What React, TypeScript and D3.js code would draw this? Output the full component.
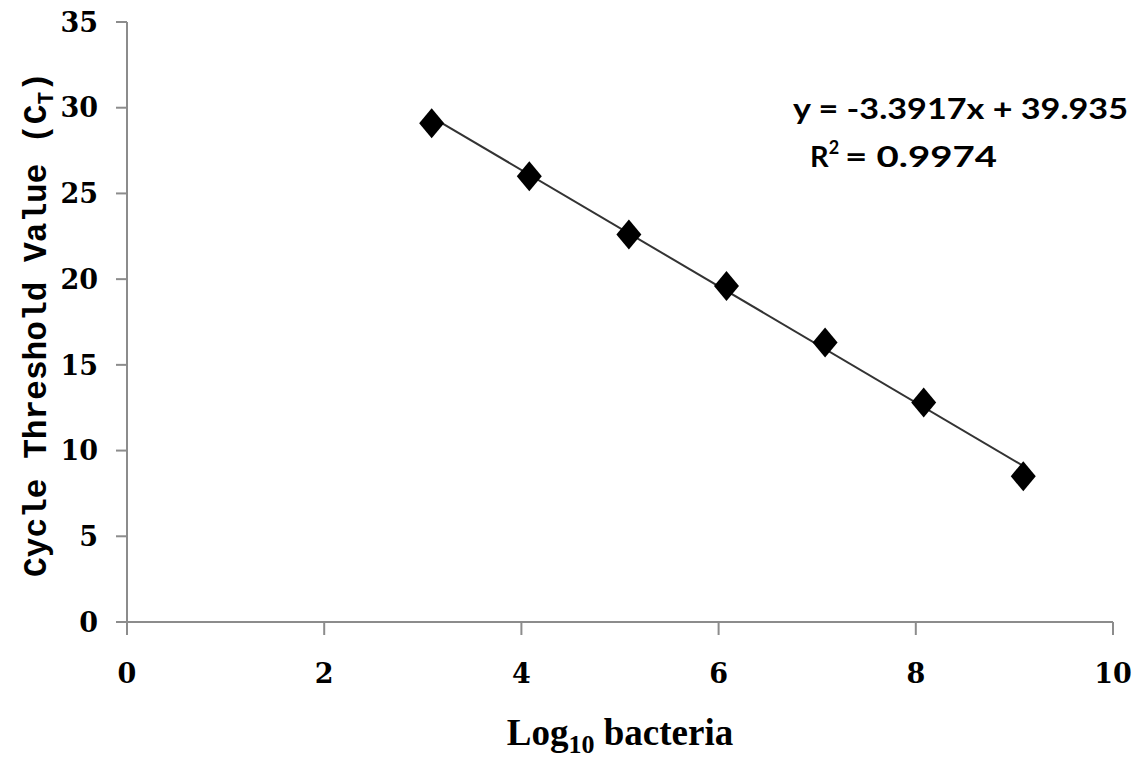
import * as d3 from 'd3';

// log10 bacteria vs Ct values
const logBacteria = [3.09, 4.08, 5.09, 6.08, 7.08, 8.08, 9.09];
const ctValues = [29.1, 26.0, 22.6, 19.6, 16.3, 12.8, 8.5];
const xTicks = [0, 2, 4, 6, 8, 10];
const yTicks = [0, 5, 10, 15, 20, 25, 30, 35];
const slope = -3.3917;
const intercept = 39.935;

const W = 1141;
const H = 761;

export default function App() {
  const x = d3.scaleLinear().domain([0, 10]).range([127, 1113]);
  const y = d3.scaleLinear().domain([0, 35]).range([622, 22]);

  const xMin = d3.min(logBacteria) as number;
  const xMax = d3.max(logBacteria) as number;
  const trend = d3.line<number>()
    .x(d => x(d))
    .y(d => y(slope * d + intercept));

  const diamond = 'M0,-15L12.5,0L0,15L-12.5,0Z';
  const axisColor = '#8c8c8c';
  const tickFont = "'DejaVu Serif', serif";
  const eqFont = "Lato, 'Open Sans', sans-serif";

  return (
    <svg width={W} height={H} style={{ position: 'absolute', left: 0, top: 0, background: '#fff' }}>
      {/* y axis */}
      <line x1={x(0)} x2={x(0)} y1={y(35)} y2={y(0)} stroke={axisColor} strokeWidth={2} />
      {yTicks.map(t => (
        <g key={'y' + t}>
          <line x1={x(0) - 11} x2={x(0)} y1={y(t)} y2={y(t)} stroke={axisColor} strokeWidth={2} />
          <text x={98} y={y(t)} dy="0.36em" textAnchor="end"
            fontFamily={tickFont} fontWeight="bold" fontSize={27}>{t}</text>
        </g>
      ))}
      {/* x axis */}
      <line x1={x(0) - 11} x2={x(10)} y1={y(0)} y2={y(0)} stroke={axisColor} strokeWidth={2} />
      {xTicks.map(t => (
        <g key={'x' + t}>
          <line x1={x(t)} x2={x(t)} y1={y(0)} y2={y(0) + 13} stroke={axisColor} strokeWidth={2} />
          <text x={x(t)} y={683} textAnchor="middle"
            fontFamily={tickFont} fontWeight="bold" fontSize={27}>{t}</text>
        </g>
      ))}

      {/* trendline */}
      <path d={trend([xMin, xMax]) || ''} fill="none" stroke="#333" strokeWidth={2} />

      {/* markers */}
      {logBacteria.map((v, i) => (
        <path key={i} d={diamond} transform={`translate(${x(v)},${y(ctValues[i])})`} fill="#000" />
      ))}

      {/* equation */}
      <text x={793} y={119} fontFamily={eqFont} fontWeight="bold" fontSize={29}
        textLength={335} lengthAdjust="spacingAndGlyphs">
        y = -3.3917x + 39.935
      </text>
      <text x={810} y={167} fontFamily={eqFont} fontWeight="bold" fontSize={29}>
        R<tspan dy={-13} fontSize={18}>2</tspan>
      </text>
      <text x={845} y={167} fontFamily={eqFont} fontWeight="bold" fontSize={29}
        textLength={152} lengthAdjust="spacingAndGlyphs">
        = 0.9974
      </text>

      {/* axis titles */}
      <text transform="translate(46,577) rotate(-90)"
        fontFamily="'Liberation Mono', monospace" fontWeight="bold" fontSize={34}
        textLength={505} lengthAdjust="spacingAndGlyphs">
        Cycle Threshold Value (C<tspan dy={7} fontSize={22}>T</tspan><tspan dy={-7}>)</tspan>
      </text>
      <text x={620} y={745} textAnchor="middle" fontFamily="'Liberation Serif', serif" fontWeight="bold" fontSize={37}>
        Log<tspan dy={8} fontSize={26}>10</tspan><tspan dy={-8}> bacteria</tspan>
      </text>
    </svg>
  );
}
